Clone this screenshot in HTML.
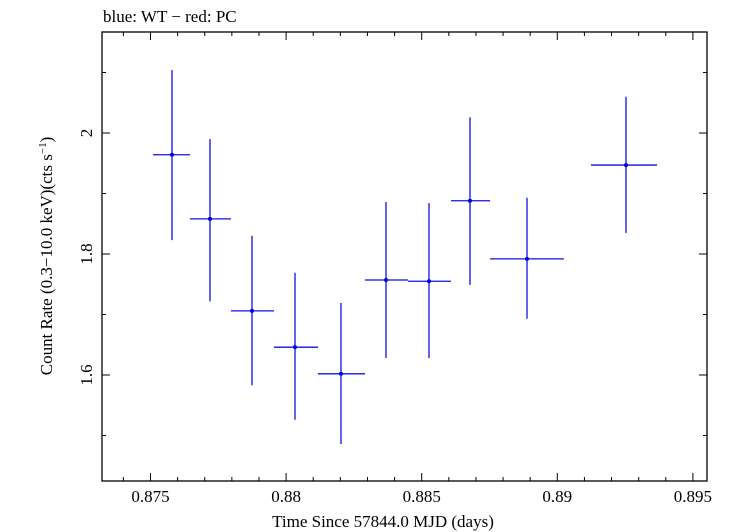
<!DOCTYPE html>
<html><head><meta charset="utf-8"><style>
body{margin:0;background:#fff}
svg{display:block;font-family:"Liberation Serif",serif}
</style></head><body>
<svg id="c" width="731" height="532" xmlns="http://www.w3.org/2000/svg">
<text x="103" y="22" font-size="17">blue: WT − red: PC</text>
<text x="383" y="527" font-size="17" text-anchor="middle">Time Since 57844.0 MJD (days)</text>
<text transform="translate(52,256) rotate(-90)" font-size="17" text-anchor="middle">Count Rate (0.3−10.0 keV)(cts s<tspan font-size="11" dy="-6">−1</tspan><tspan dy="6">)</tspan></text>
<g id="g"></g>
</svg>
<script>
const xCenter=[0.875793,0.877194,0.878743,0.880328,0.882024,0.883684,0.885269,0.886781,0.888883,0.892533];
const xLow=[0.875092,0.876456,0.877968,0.879554,0.881176,0.882909,0.884495,0.886080,0.887519,0.891243];
const xHigh=[0.876456,0.877968,0.879554,0.881176,0.882909,0.884495,0.886080,0.887519,0.890247,0.893676];
const rate=[1.964,1.858,1.706,1.646,1.602,1.757,1.755,1.888,1.792,1.947];
const rateHigh=[2.104,1.990,1.830,1.769,1.719,1.886,1.884,2.026,1.893,2.060];
const rateLow=[1.823,1.722,1.583,1.526,1.486,1.628,1.628,1.749,1.693,1.835];
const xTicks=["0.875","0.88","0.885","0.89","0.895"];
const yTicks=["1.6","1.8","2"];
const L=102,R=707,T=32,B=481;
const X=v=>150.5+(v-0.875)/0.005*135.6;
const Y=v=>133-(v-2)*605;
const NS="http://www.w3.org/2000/svg";
const g=document.getElementById('g');
function mk(tag,a){const e=document.createElementNS(NS,tag);for(const k in a)e.setAttribute(k,a[k]);g.appendChild(e);return e;}
const frame=mk('rect',{x:L,y:T,width:R-L,height:B-T,fill:'none',stroke:'#000','stroke-width':1.3});


for(let i=0;i<=21;i++){const v=0.874+i*0.001;const px=X(v);if(px<L||px>R)continue;
 const major=(i%5)==1;const len=major?8:4;
 const t1=mk('line',{x1:px,x2:px,y1:B,y2:B-len,stroke:'#000'});
 
 
 const t2=mk('line',{x1:px,x2:px,y1:T,y2:T+len,stroke:'#000'});
 
 }
xTicks.forEach(s=>{const t=mk('text',{x:X(+s),y:502,'font-size':17,'text-anchor':'middle'});t.textContent=s;
 
 });
for(let i=0;i<=8;i++){const v=1.4+i*0.1;const py=Y(v);if(py<T||py>B)continue;const len=(i%2==0)?8:4;
 const t1=mk('line',{x1:L,x2:L+len,y1:py,y2:py,stroke:'#000'});
 
 
 const t2=mk('line',{x1:R,x2:R-len,y1:py,y2:py,stroke:'#000'});
 
 }
yTicks.forEach(s=>{const t=mk('text',{transform:`translate(92,${Y(+s)}) rotate(-90)`,'font-size':17,'text-anchor':'middle'});t.textContent=s;
 
 });
rate.forEach((r,i)=>{
 const h=mk('line',{x1:X(xLow[i]),x2:X(xHigh[i]),y1:Y(r),y2:Y(r),stroke:'#1010e8','stroke-width':1.3});
 
 
 const v=mk('line',{x1:X(xCenter[i]),x2:X(xCenter[i]),y1:Y(rateLow[i]),y2:Y(rateHigh[i]),stroke:'#1010e8','stroke-width':1.3});
 
 
 const c=mk('circle',{cx:X(xCenter[i]),cy:Y(r),r:2,fill:'#0000e0'});
 
 
});
</script>
</body></html>
